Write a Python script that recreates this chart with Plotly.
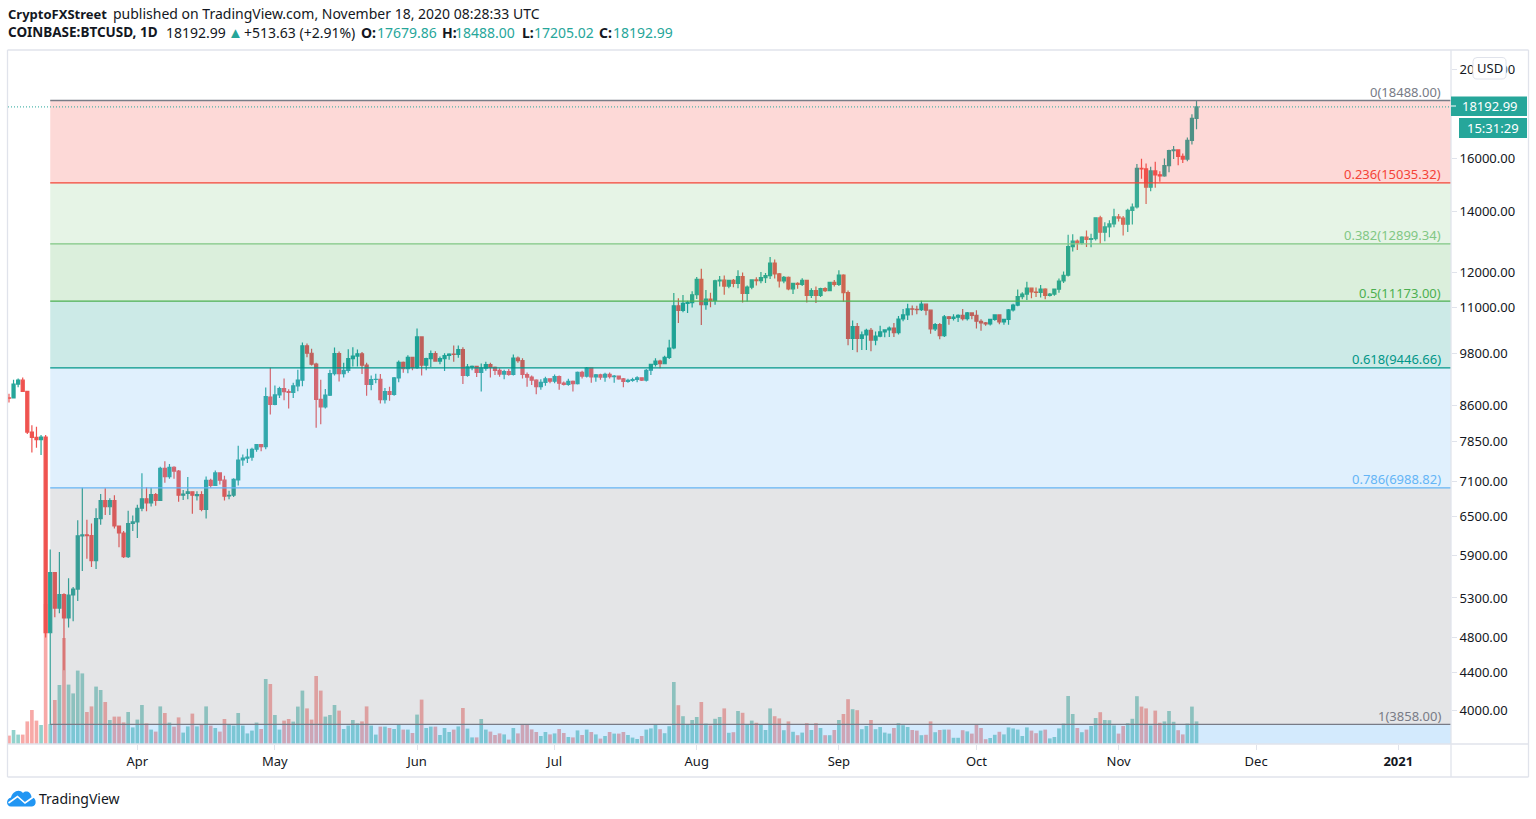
import math
import pandas as pd
import plotly.graph_objects as go

# daily candles, Mar 4 to Nov 18 2020
open_ = [
    8760,8760,9070,9160,8905,8040,7935,7890,7940,4857,5648,5167,5345,5040,5340,5420,6195,6210,6200,5820,6470,6770,6665,6770,6350,6240,5880,6390,
    6415,6640,6800,6730,6870,6770,7340,7190,7360,7290,6860,6890,6920,6855,6870,6620,7120,7030,7255,7125,6850,6860,7130,7495,7530,7550,7700,7790,7750,8780,
    8620,8825,8970,8900,8880,9030,9160,9985,9800,9535,8730,8565,8820,9310,9790,9310,9385,9670,9730,9785,9510,9060,9175,9180,8720,8900,8840,9210,9580,9430,9700,
    9450,10210,9510,9670,9790,9610,9670,9745,9780,9770,9890,9270,9470,9480,9340,9440,9525,9460,9385,9300,9360,9290,9680,9620,9290,9230,9160,9010,9110,9190,
    9135,9240,9090,9060,9130,9080,9340,9250,9440,9235,9285,9230,9295,9240,9255,9190,9130,9155,9175,9215,9160,9390,9530,9610,9545,9700,9930,11040,10910,11110,11130,
    11350,11800,11070,11230,11190,11755,11775,11600,11770,11680,11880,11390,11570,11780,11760,11850,11910,12290,11960,11750,11860,11520,11680,11650,11770,11330,11470,11330,11530,11470,11710,
    11650,11925,11410,10170,10480,10170,10260,10380,10130,10230,10340,10390,10440,10320,10680,10790,10955,10945,10935,11085,10920,10420,10530,10240,10740,10695,10730,10775,10690,10845,
    10780,10620,10575,10550,10670,10790,10600,10670,10925,11060,11300,11370,11540,11430,11415,11510,11330,11370,11510,11750,11920,12810,12990,12930,13120,13040,13070,13770,13280,13460,13560,
    13800,13760,13550,14030,14150,15590,15570,14870,15490,15340,15300,15700,16300,16330,16070,15960,16730,17679.86,
]
high = [
    8850,9170,9200,9220,8905,8180,8150,7980,7980,5985,5655,5950,5365,5570,5450,6441,6990,6450,6390,6640,6880,6980,6810,6860,6350,6270,6600,6520,
    6700,7250,7000,6990,6900,7370,7470,7420,7380,7310,6950,7180,6930,6930,6930,7190,7150,7300,7260,7205,6940,7160,7770,7600,7710,7730,7800,7800,8990,9450,
    9040,9010,9200,8950,9100,9400,10070,10040,9910,9570,9170,8960,9400,9940,9840,9570,9900,9950,9890,9830,9570,9270,9310,9300,8980,9010,9230,9620,9600,9750,9710,
    10430,10230,9690,9870,9850,9720,9800,9800,9990,9990,9950,9540,9500,9490,9550,9590,9570,9480,9440,9400,9420,9770,9720,9680,9340,9270,9180,9180,9240,9200,
    9290,9270,9130,9190,9150,9360,9380,9470,9450,9300,9310,9330,9340,9280,9270,9210,9190,9215,9250,9220,9420,9540,9680,9640,9740,10140,11400,11250,11340,11180,11450,
    11870,12120,11490,11410,11790,11900,11910,11790,11810,12070,12000,11620,11800,11860,12020,11990,12480,12400,11990,11900,11880,11690,11710,11830,11780,11540,11590,11550,11570,11720,11780,
    12070,11950,11470,10640,10570,10350,10420,10440,10350,10500,10400,10480,10570,10760,10950,11100,11050,11040,11180,11090,10930,10570,10570,10790,10760,10810,10810,10950,10870,10850,
    10920,10670,10600,10690,10800,10800,10680,10950,11100,11500,11420,11730,11560,11560,11630,11540,11400,11530,11820,12030,13200,13210,13040,13150,13340,13230,13790,13840,13620,13690,14090,
    13900,13830,14090,14270,15760,15970,15780,15650,15850,15480,15980,16340,16490,16340,16180,16850,17860,18488,
]
low = [
    8660,8755,9000,8890,8000,7640,7730,7590,4800,3858,5050,5100,4420,4920,5000,5260,5670,5850,5730,5700,6370,6530,6530,6310,6020,5860,5860,6270,
    6160,6590,6590,6670,6680,6770,7080,7150,7150,6750,6780,6790,6550,6770,6590,6470,6990,7020,7050,6770,6790,6830,7030,7390,7440,7480,7650,7660,7700,8400,
    8600,8760,8710,8530,8760,8910,9020,9700,9500,8130,8200,8530,8800,9270,9130,9220,9330,9480,9480,9300,8810,8930,9090,8640,8640,8700,8810,9110,9330,9320,9390,
    9420,9270,9390,9470,9590,9530,9370,9640,9590,9690,9070,9240,9390,9230,8900,9380,9220,9280,9240,9180,9260,9270,9570,9200,9010,9050,8840,8940,9030,9090,
    9090,8940,9040,9030,8900,9060,9200,9220,9100,9120,9170,9120,9200,9100,9170,9000,9100,9120,9110,9140,9130,9280,9480,9440,9540,9660,9900,10570,10860,10840,10990,
    11230,10520,10930,11000,11070,11590,11350,11540,11570,11540,11130,11160,11510,11620,11680,11690,11810,11820,11560,11680,11480,11370,11520,11600,11130,11260,11120,11290,11430,11460,11590,
    11600,11150,10000,9880,9825,9880,9880,9850,10000,10200,10200,10210,10210,10270,10620,10650,10780,10810,10900,10780,10290,10360,10150,10210,10530,10640,10600,10640,10640,10670,
    10430,10370,10500,10510,10630,10540,10530,10530,10880,11030,11220,11200,11250,11290,11270,11220,11300,11320,11410,11690,11880,12650,12700,12880,12800,12790,13010,12900,12980,13110,13450,
    13640,13170,13290,13540,14100,15190,14260,14720,14850,15080,15270,15440,15960,15710,15800,15870,16550,17205.02,
]
close = [
    8755,9070,9160,8905,8040,7935,7890,7940,4857,5648,5167,5345,5040,5340,5420,6195,6210,6200,5820,6470,6770,6665,6770,6350,6240,5880,6390,6415,
    6640,6800,6730,6870,6770,7340,7190,7360,7290,6860,6880,6920,6860,6870,6620,7120,7030,7255,7125,6845,6860,7140,7495,7530,7550,7700,7790,7750,8790,8620,
    8825,8970,8900,8880,9030,9160,9985,9800,9535,8730,8565,8820,9310,9790,9310,9385,9670,9730,9785,9510,9060,9175,9180,8720,8900,8840,9210,9580,9430,9700,9450,
    10210,9510,9670,9790,9610,9670,9745,9780,9770,9890,9270,9470,9480,9340,9440,9525,9460,9385,9300,9360,9290,9680,9620,9290,9230,9160,9010,9110,9190,9135,
    9240,9090,9060,9130,9080,9340,9250,9440,9235,9285,9230,9295,9240,9255,9190,9130,9155,9175,9215,9160,9390,9530,9610,9545,9700,9930,11040,10910,11110,11130,11350,
    11800,11070,11230,11190,11755,11775,11600,11770,11680,11880,11390,11570,11780,11760,11850,11910,12290,11960,11750,11860,11520,11680,11650,11770,11330,11470,11330,11530,11470,11710,11650,
    11925,11410,10170,10480,10170,10260,10380,10130,10230,10340,10390,10440,10320,10680,10790,10955,10945,10935,11085,10920,10420,10530,10240,10740,10695,10730,10775,10690,10845,10780,
    10620,10575,10550,10670,10790,10600,10670,10925,11060,11300,11370,11540,11430,11415,11510,11330,11370,11510,11750,11920,12810,12990,12930,13120,13040,13070,13770,13280,13460,13560,13800,
    13760,13550,14030,14150,15590,15570,14870,15490,15340,15300,15700,16300,16330,16070,15960,16730,17680,18192.99,
]
# thousand BTC
volume = [
    4.2,7,4.7,4.7,11.3,17,11.7,9.5,70,10,22,29.5,53,29.7,25.3,36.7,35.3,16,18.8,28.7,27,21,12,13.7,13.7,10.8,16,8.3,
    12.2,19.5,10.3,7.2,6.2,18.8,15.5,10.7,8.7,13.3,5.7,8.8,15.2,8.8,10,18.8,9.2,8,6.2,12.5,10,9.2,15.5,9.2,5.3,6.7,10.7,7.5,32.5,30,
    14.5,7.2,11.7,12.5,11.2,18.7,26.7,17.8,12.2,34,26.7,13.7,14.5,19.5,16.7,7.5,9.2,12,10.3,11.3,18.8,9.2,4.7,8.7,8.7,8,7.5,10,7.2,7.2,5.5,
    14.7,22.2,8,8.7,8.7,4.5,8,6,7.2,8.8,18,7.7,3.3,3.3,12.5,7.2,6.2,4.5,5.3,4.8,2.2,8,5.3,9.5,9.5,7.3,6,4,6,4.8,
    5.3,7.5,5.5,3.5,3.3,6.8,4.5,7.2,6,4.8,2.7,4,6,5.2,5.2,6,4.5,3.2,2.5,4,7.2,7.8,9.6,7.4,5.4,8.9,31,19.4,13.9,9.6,12,
    13.5,21,10.2,9.3,12.6,13.5,17.8,5.6,5.9,16.5,15.6,9.8,11.7,10.6,9.6,7,17.8,13.9,12.8,6.9,11.3,6.1,4.4,5.7,10.4,7,10.4,8,4.4,4.4,7,
    12,15,22.4,17.4,16.9,7.4,9,12,7.4,8.5,5.7,5.2,8,10.4,9.4,8.5,7,6.7,4.4,4.6,11.3,5.9,7,7.2,7.2,3.1,3.1,6.9,6.3,5.2,
    9.8,8,2.4,3,4.6,6.1,4.8,8.3,7.8,7.2,4,8.3,6.7,5.4,6.7,7.2,2.8,3.5,7.8,10.2,24,15,8,5.9,7.2,9,13,15.9,12,11.9,9.3,
    5.2,9,10.4,12.6,23.9,18.7,17.8,9.3,16.7,10.6,11.3,16.5,11.1,6.9,4.8,10.2,18.7,11.3,
]
dates = pd.date_range("2020-03-04", periods=len(close), freq="D")

fib_ratios = ["0", "0.236", "0.382", "0.5", "0.618", "0.786", "1"]
fib_levels = [18488.00, 15035.32, 12899.34, 11173.00, 9446.66, 6988.82, 3858.00]
fib_colors = ["#787b86", "#f44336", "#81c784", "#4caf50", "#009688", "#64b5f6", "#787b86"]
below_color = "#2196f3"

price_ticks = [20000, 16000, 14000, 12000, 11000, 9800, 8600, 7850, 7100, 6500, 5900, 5300, 4800, 4400, 4000]
month_ticks = ["2020-04-01", "2020-05-01", "2020-06-01", "2020-07-01", "2020-08-01", "2020-09-01",
               "2020-10-01", "2020-11-01", "2020-12-01", "2021-01-01"]
month_labels = ["Apr", "May", "Jun", "Jul", "Aug", "Sep", "Oct", "Nov", "Dec", "<b>2021</b>"]

last_price = 18192.99
price_low, price_high = 3673, 20988
x_start, x_end = "2020-03-03 19:00", "2021-01-12 12:00"
fib_start = "2020-03-13"

UP, DOWN = "#26a69a", "#ef5350"
BORDER = "#e0e3eb"
INK = "#131722"
FONT = "Noto Sans"

# the chart area inside the page, used only for the frame, header and logo
L, R, T, B = 8, 1451, 50, 744


def px(x):
    return (x - L) / (R - L)


def py(y):
    return (B - y) / (B - T)


def pagepath(*parts):
    out = []
    for p in parts:
        if isinstance(p, str):
            out.append(p)
        else:
            out.append(f"{px(p[0]):.5f},{py(p[1]):.5f}")
    return " ".join(out)


def rgba(col, a):
    return f"rgba({int(col[1:3],16)},{int(col[3:5],16)},{int(col[5:7],16)},{a})"


fig = go.Figure()

fig.add_trace(go.Bar(x=dates, y=volume, yaxis="y",
                     marker=dict(color=[rgba(UP, .5) if c >= o else rgba(DOWN, .5) for o, c in zip(open_, close)],
                                 line_width=0),
                     hoverinfo="skip"))
fig.add_trace(go.Candlestick(x=dates, open=open_, high=high, low=low, close=close, yaxis="y2",
                             increasing=dict(line=dict(color=UP, width=1.2), fillcolor=UP),
                             decreasing=dict(line=dict(color=DOWN, width=1.2), fillcolor=DOWN),
                             whiskerwidth=0))

shapes = []
annotations = []

# fib zones sit on top of the candles, like in the original
tops = fib_levels
bottoms = fib_levels[1:] + [price_low]
for i in range(len(fib_levels)):
    zone = fib_colors[i + 1] if i + 1 < len(fib_colors) else below_color
    shapes.append(dict(type="rect", layer="above", xref="x", yref="y2", x0=fib_start, x1=x_end,
                       y0=bottoms[i], y1=tops[i], line_width=0, fillcolor=rgba(zone, .2)))
for ratio, level, col in zip(fib_ratios, fib_levels, fib_colors):
    shapes.append(dict(type="line", layer="above", xref="x", yref="y2", x0=fib_start, x1=x_end,
                       y0=level, y1=level, line=dict(color=col, width=1.3)))
    annotations.append(dict(xref="paper", yref="y2", x=px(1442), y=math.log10(level), xanchor="right", yanchor="bottom",
                            text=f"{ratio}({level:.2f})", showarrow=False, borderpad=0, yshift=-1.5,
                            font=dict(family=FONT, size=13, color=col)))

shapes.append(dict(type="line", layer="above", xref="paper", yref="y2", x0=0, x1=1, y0=last_price, y1=last_price,
                   line=dict(color=UP, width=1, dash="1px,2px")))

# frame
for x0, y0, x1, y1 in [(7.5, 50, 1528.5, 50), (7.5, 777, 1528.5, 777), (7.5, 50, 7.5, 777),
                       (1528.5, 50, 1528.5, 777), (1451, 50, 1451, 777), (7.5, 744, 1528.5, 744)]:
    shapes.append(dict(type="line", xref="paper", yref="paper", x0=px(x0), x1=px(x1), y0=py(y0), y1=py(y1),
                       line=dict(color=BORDER, width=1.3), layer="above"))

# last price and countdown tags
shapes.append(dict(type="rect", xref="paper", yref="paper", layer="above", x0=px(1451), x1=px(1527), y0=py(116), y1=py(96.5),
                   fillcolor=UP, line_width=0))
shapes.append(dict(type="rect", xref="paper", yref="paper", layer="above", x0=px(1459), x1=px(1527), y0=py(138), y1=py(118),
                   fillcolor=UP, line_width=0))
shapes.append(dict(type="line", xref="paper", yref="paper", layer="above", x0=px(1451), x1=px(1456), y0=py(106), y1=py(106),
                   line=dict(color="white", width=1)))
shapes.append(dict(type="path", xref="paper", yref="paper", layer="above", fillcolor="white",
                   line=dict(color=BORDER, width=1),
                   path=pagepath("M", (1477, 57.5), "L", (1502, 57.5), "Q", (1506, 57.5), (1506, 61.5), "L", (1506, 75), "Q", (1506, 79),
                                 (1502, 79), "L", (1477, 79), "Q", (1473, 79), (1473, 75), "L", (1473, 61.5), "Q", (1473, 57.5), (1477, 57.5), "Z")))

# logo
shapes.append(dict(type="path", xref="paper", yref="paper", fillcolor="#2196f3", line_width=0,
                   path=pagepath("M", (11, 806.5), "C", (6, 806.5), (5.5, 799), (11, 797.5), "C", (12, 792), (19, 788), (23, 793),
                                 "C", (26, 790), (31, 792), (31.5, 797), "C", (37, 797.5), (37, 806.5), (32, 806.5), "Z")))
shapes.append(dict(type="path", xref="paper", yref="paper", line=dict(color="white", width=1.6),
                   path=pagepath("M", (8.5, 803), "L", (17.5, 796.5), "L", (25, 803), "L", (34, 796.5))))


def note(text, x, y, size=14, color=INK, anchor="left"):
    annotations.append(dict(xref="paper", yref="paper", x=px(x), y=py(y), xanchor=anchor, yanchor="middle",
                            text=text, showarrow=False, borderpad=0,
                            font=dict(family=FONT, size=size, color=color)))


note("<b>CryptoFXStreet</b>", 7, 13.5, size=13)
note("published on TradingView.com, November 18, 2020 08:28:33 UTC", 111.5, 13.5)
note("<b>COINBASE:BTCUSD, 1D</b>", 7, 32.5, size=13.5)
note("18192.99", 165, 32.5)
note("▲", 226.5, 32.5, size=15, color=UP)
note("+513.63 (+2.91%)", 243, 32.5)
for label, lx, value, vx in [("O:", 360, "17679.86", 376), ("H:", 441, "18488.00", 454),
                             ("L:", 521, "17205.02", 533), ("C:", 598, "18192.99", 612)]:
    note(f"<b>{label}</b>", lx, 32.5)
    note(value, vx, 32.5, color=UP)
note("18192.99", 1490, 106, size=13, color="white", anchor="center")
note("15:31:29", 1493, 128, size=13, color="white", anchor="center")
note("USD", 1489.5, 68, size=13, anchor="center")
note("TradingView", 38, 798)

fig.update_layout(
    width=1536, height=819, autosize=False,
    margin=dict(l=L, r=1536 - R, t=T, b=819 - B, pad=0),
    paper_bgcolor="white", plot_bgcolor="white",
    showlegend=False, boxgap=0.05, bargap=0.2, hovermode=False,
    shapes=shapes, annotations=annotations,
    font=dict(family=FONT, size=13, color=INK),
    xaxis=dict(type="date", range=[x_start, x_end], rangeslider_visible=False, showgrid=False, zeroline=False,
               tickmode="array", tickvals=month_ticks, ticktext=month_labels, ticks="outside", ticklen=5,
               tickcolor=BORDER, showline=False, tickfont=dict(family=FONT, size=13, color=INK)),
    yaxis=dict(visible=False, range=[0, 347], fixedrange=True),
    yaxis2=dict(type="log", overlaying="y", side="right", anchor="x",
                range=[math.log10(price_low), math.log10(price_high)], showgrid=False, zeroline=False,
                tickmode="array", tickvals=price_ticks, ticktext=[f"{v:.2f}" for v in price_ticks],
                ticks="outside", ticklen=5, tickcolor=BORDER, showline=False,
                tickfont=dict(family=FONT, size=13, color=INK)),
)

fig.write_html("out.html", config=dict(displayModeBar=False),
               post_script="document.body.style.margin='0';document.body.style.overflow='hidden';")
